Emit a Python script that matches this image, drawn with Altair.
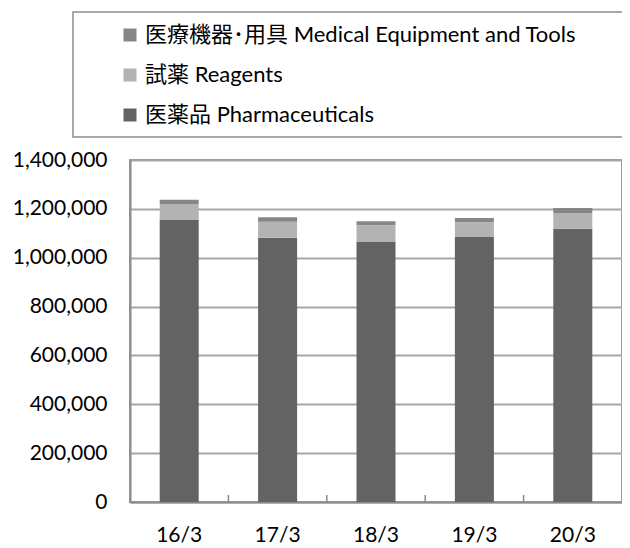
import altair as alt
import pandas as pd

years = ["16/3", "17/3", "18/3", "19/3", "20/3"]
pharma = [1154000, 1082000, 1066000, 1085000, 1119000]
reagents = [66000, 65500, 67000, 60000, 64000]
medical = [17500, 18000, 16000, 17500, 20500]

s_med = "医療機器･用具 Medical Equipment and Tools"
s_rea = "試薬 Reagents"
s_pha = "医薬品 Pharmaceuticals"
series_names = [s_med, s_rea, s_pha]
series_colors = ["#868686", "#b3b3b3", "#636363"]
stack_order = {s_pha: 0, s_rea: 1, s_med: 2}
y_ticks = [0, 200000, 400000, 600000, 800000, 1000000, 1200000, 1400000]

rows = []
for i, y in enumerate(years):
    for name, vals in ((s_pha, pharma), (s_rea, reagents), (s_med, medical)):
        rows.append({"year": y, "series": name, "value": vals[i], "ord": stack_order[name]})
df = pd.DataFrame(rows)

FONT = "Lato, 'Noto Sans CJK JP', sans-serif"
W, H = 492, 342

bars = alt.Chart(df).mark_bar(size=39).encode(
    x=alt.X("year:N", sort=years, title=None,
            scale=alt.Scale(paddingInner=0, paddingOuter=0),
            axis=alt.Axis(labelAngle=0, tickSize=0, labelPadding=22, domain=True,
                          domainColor="#8c8c8c", domainWidth=2, grid=False,
                          labelFont=FONT, labelFontSize=21, labelColor="#000000")),
    y=alt.Y("value:Q", stack="zero", title=None,
            scale=alt.Scale(domain=[0, 1400000], nice=False),
            axis=alt.Axis(values=y_ticks, labelExpr="format(datum.value, ',')",
                          tickSize=0, labelPadding=23, domainColor="#8c8c8c", domainWidth=2,
                          gridColor="#a6a6a6", gridWidth=2,
                          labelFont=FONT, labelFontSize=21, labelColor="#000000")),
    color=alt.Color("series:N", scale=alt.Scale(domain=series_names, range=series_colors),
                    legend=alt.Legend(title=None, orient="none", legendX=-11, legendY=-136,
                                      symbolType="square", symbolSize=169, symbolStrokeWidth=0,
                                      labelFontSize=22, labelFont=FONT, labelColor="#000000",
                                      labelOffset=4, rowPadding=18, padding=0, labelLimit=600)),
    order=alt.Order("ord:Q"),
)

ticks_df = pd.DataFrame({"year": years[1:]})
xticks = alt.Chart(ticks_df).mark_rule(color="#8c8c8c", strokeWidth=1.5).encode(
    x=alt.X("year:N", sort=years, bandPosition=0),
    y=alt.value(H),
    y2=alt.value(H - 7),
)

frame_df = pd.DataFrame({"k": [0]})
frame = alt.Chart(frame_df).mark_rect(fill=None, stroke="#8c8c8c", strokeWidth=1.5).encode(
    x=alt.value(-57), x2=alt.value(W + 40), y=alt.value(-148), y2=alt.value(-23)
)

chart = alt.layer(bars, xticks, frame).properties(
    width=W, height=H,
    background="white",
    autosize=alt.AutoSizeParams(type="none"),
    padding={"left": 122, "top": 152, "right": 0, "bottom": 44},
).configure_view(stroke="#9a9a9a", strokeWidth=2)

chart.save("out.html", embed_options={"renderer": "svg", "actions": False})
